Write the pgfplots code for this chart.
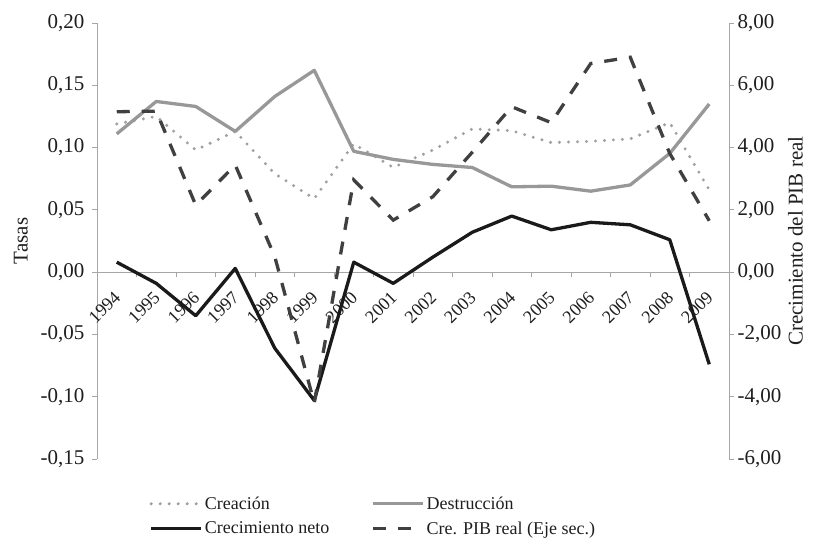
\documentclass[border=0pt]{standalone}
\usepackage{fontspec}
\setmainfont{Liberation Serif}
\usepackage{pgfplots}
\usepackage{pgfplotstable}
\pgfplotsset{compat=1.18}

\definecolor{axgray}{RGB}{166,166,166}
\definecolor{cre}{RGB}{160,160,160}
\definecolor{des}{RGB}{152,152,152}
\definecolor{neto}{RGB}{26,26,26}
\definecolor{pib}{RGB}{64,64,64}
\definecolor{txt}{RGB}{30,30,30}

\pgfplotstableread{
x cre des neto pib
0  0.119  0.111  0.008  5.15
1  0.125  0.137 -0.009  5.17
2  0.098  0.133 -0.035  2.15
3  0.113  0.113  0.003  3.44
4  0.079  0.141 -0.061  0.50
5  0.059  0.162 -0.103 -4.20
6  0.103  0.097  0.008  2.96
7  0.084  0.0905 -0.009 1.67
8  0.098  0.0865 0.012  2.42
9  0.115  0.084  0.032  3.85
10 0.1135 0.0685 0.045  5.31
11 0.104  0.069  0.034  4.80
12 0.105  0.065  0.040  6.70
13 0.107  0.070  0.038  6.90
14 0.120  0.0953 0.026  3.81
15 0.066  0.135 -0.074  1.65
}\data

\pgfplotsset{
  common/.style={
    at={(97pt,87pt)}, anchor=south west,
    width=632pt, height=436pt, scale only axis,
    xmin=-0.5, xmax=15.5,
    axis line style={draw=axgray, line width=0.8pt, -},
    tick style={draw=axgray, line width=0.8pt},
    major tick length=5pt,
    tick align=outside,
    hide obscured x ticks=false,
    hide obscured y ticks=false,
    yticklabel style={font=\fontsize{21}{25}\selectfont, text=txt},
    ylabel style={font=\fontsize{21}{25}\selectfont, text=txt},
  }
}

\begin{document}
\begin{tikzpicture}
\useasboundingbox (0,0) rectangle (821pt,546pt);
\begin{axis}[
  common,
  ymin=-0.15, ymax=0.20,
  axis y line*=left, axis x line*=middle,
  ytick={-0.15,-0.1,-0.05,0,0.05,0.1,0.15,0.2},
  yticklabels={{-0,15},{-0,10},{-0,05},{0,00},{0,05},{0,10},{0,15},{0,20}},
  yticklabel style={xshift=-4pt},
  ylabel={Tasas},
  ylabel style={xshift=0pt, yshift=6pt},
  xtick={0.5,1.5,...,14.5},
  xticklabels={},
  extra x ticks={0,1,...,15},
  extra x tick labels={1994,1995,1996,1997,1998,1999,2000,2001,2002,2003,2004,2005,2006,2007,2008,2009},
  extra x tick style={major tick length=0pt,
    xticklabel style={font=\fontsize{18}{21}\selectfont, text=txt, xshift=3pt, yshift=-20pt, rotate=45, anchor=east}},
  legend style={at={(0.078,-0.077)}, anchor=north west, draw=none, fill=none,
    font=\fontsize{18}{21}\selectfont, text=txt,
    /tikz/every even column/.append style={column sep=40pt},
    row sep=7pt},
  legend columns=2,
  legend cell align=left,
  legend image code/.code={\draw[#1] (0pt,0pt) -- (50pt,0pt);},
]
\addplot[cre, line width=3.3pt, line cap=round, dash pattern=on 0pt off 9pt] table[x=x,y=cre] {\data};
\addlegendentry{Creación}
\addplot[des, line width=3.3pt, line join=round] table[x=x,y=des] {\data};
\addlegendentry{Destrucción}
\addplot[neto, line width=3.3pt, line join=round] table[x=x,y=neto] {\data};
\addlegendentry{Crecimiento neto}
\addlegendimage{pib, line width=3.3pt, dash pattern=on 13pt off 12pt}
\addlegendentry{Cre. PIB real (Eje sec.)}
\end{axis}
\begin{axis}[
  common,
  ymin=-6, ymax=8,
  axis y line*=right, axis x line=none,
  ytick={-6,-4,-2,0,2,4,6,8},
  yticklabels={{-6,00},{-4,00},{-2,00},{0,00},{2,00},{4,00},{6,00},{8,00}},
  ylabel={Crecimiento del PIB real},
]
\addplot[pib, line width=3.3pt, dash pattern=on 13pt off 12pt] table[x=x,y=pib] {\data};
\end{axis}
\end{tikzpicture}
\end{document}
